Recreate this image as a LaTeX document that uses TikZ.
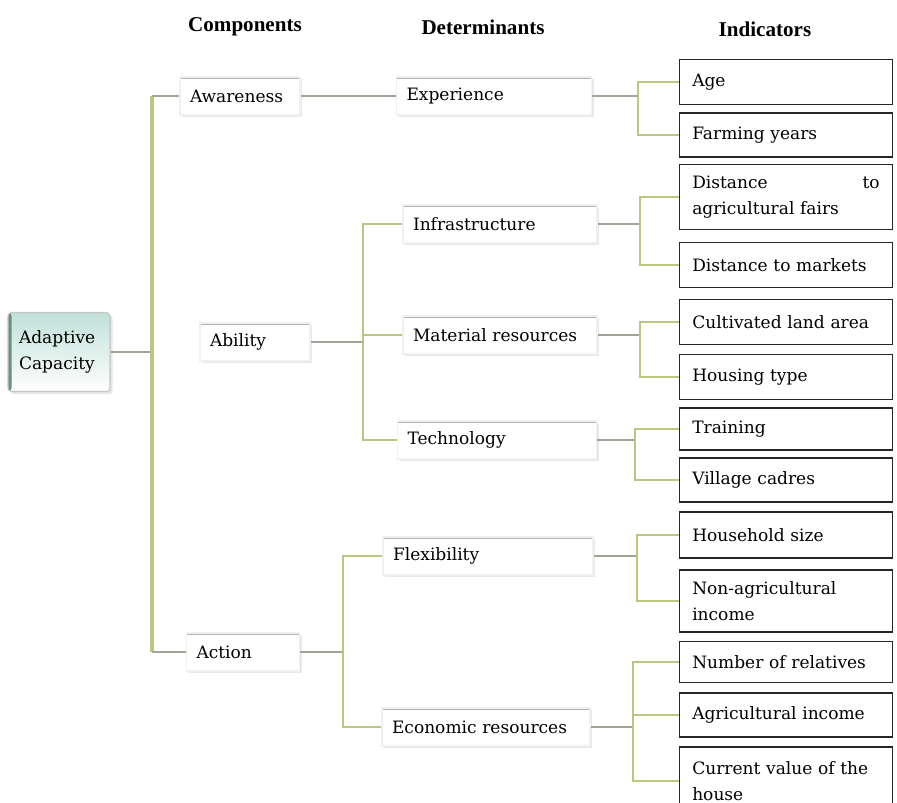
\documentclass[tikz,border=0pt]{standalone}
\usepackage{fontspec}
\setmainfont{DejaVu Serif}
\newfontfamily\headfont{Liberation Serif}
\usetikzlibrary{positioning,shadows}
\definecolor{linkgray}{RGB}{160,163,150}
\definecolor{linkgreen}{RGB}{188,198,128}
\definecolor{rootteal}{RGB}{150,205,190}

\begin{document}
\begin{tikzpicture}[x=0.02cm, y=-0.02cm,
    every node/.style={font=\fontsize{9.7}{14.5}\selectfont},
    head/.style={font=\headfont\bfseries\fontsize{12}{14}\selectfont},
    root/.style={rectangle, rounded corners=2pt, draw=gray!45, line width=0.6pt,
                 top color=rootteal!60, bottom color=white,
                 text width=1.6cm, inner xsep=0.22cm, minimum height=1.58cm, align=left,
                 drop shadow={opacity=0.2, shadow xshift=1.5pt, shadow yshift=-1.5pt},
                 path picture={\fill[rootteal!70!black] (path picture bounding box.north west)
                     rectangle ([xshift=2pt]path picture bounding box.south west);}},
    lvl/.style={rectangle, fill=white, draw=gray!12, line width=0.6pt,
                text width=#1, inner xsep=0.2cm, minimum height=0.76cm, align=left,
                drop shadow={opacity=0.18, shadow xshift=1.2pt, shadow yshift=-1.2pt},
                path picture={\draw[gray!60, line width=1.8pt] (path picture bounding box.north west)
                     -- (path picture bounding box.north east);}},
    ind/.style={rectangle, draw=black!85, line width=1pt, fill=white,
                text width=3.75cm, inner xsep=0.255cm, align=left},
    hlink/.style={draw=linkgray, line width=1.3pt},
    vlink/.style={draw=linkgreen, line width=1.5pt},
]
\useasboundingbox (0,0) rectangle (897,803);
\fill[white] (0,0) rectangle (897,803);
\clip (0,0) rectangle (897,803);

% Column headings
\node[head] (hcomp) at (245,27) {Components};
\node[head] (hdet) at (483,27) {Determinants};
\node[head] (hind) at (765,29) {Indicators};

% Root
\node[root] (adcap) at (59,352) {Adaptive\\Capacity};

% Components
\node[lvl=2.0cm] (aware) at (240,96) {Awareness};
\node[lvl=1.8cm] (abil) at (255,342) {Ability};
\node[lvl=1.86cm] (act) at (243,652) {Action};

% Determinants
\node[lvl=3.5cm] (exper) at (494,96) {Experience};
\node[lvl=3.48cm] (infra) at (500,224) {Infrastructure};
\node[lvl=3.48cm] (mater) at (500,335) {Material resources};
\node[lvl=3.58cm] (techn) at (497,440) {Technology};
\node[lvl=3.8cm] (flexi) at (488,556) {Flexibility};
\node[lvl=3.76cm] (econ) at (486,727) {Economic resources};

% Indicators
\node[ind, minimum height=0.9cm] (age) at (786,82) {Age};
\node[ind, minimum height=0.88cm] (farm) at (786,135) {Farming years};
\node[ind, minimum height=1.3cm] (dfair) at (786,197) {Distance\hfill to\\agricultural fairs};
\node[ind, minimum height=0.9cm] (dmark) at (786,265) {Distance to markets};
\node[ind, minimum height=0.9cm] (cult) at (786,322) {Cultivated land area};
\node[ind, minimum height=0.9cm] (house) at (786,377) {Housing type};
\node[ind, minimum height=0.84cm] (train) at (786,429) {Training};
\node[ind, minimum height=0.88cm] (vill) at (786,480) {Village cadres};
\node[ind, minimum height=0.92cm] (hh) at (786,535) {Household size};
\node[ind, minimum height=1.24cm] (nonag) at (786,601) {Non-agricultural\\income};
\node[ind, minimum height=0.82cm] (rel) at (786,662) {Number of relatives};
\node[ind, minimum height=0.88cm] (agri) at (786,715) {Agricultural income};
\node[ind, minimum height=1.36cm] (cur) at (786,781) {Current value of the\\house};

% Trunk
\coordinate (trunk) at (152,0);
\draw[hlink] (adcap.east) -- (adcap.east -| trunk);
\draw[vlink, line width=1.9pt] (aware.west -| trunk) -- (act.west -| trunk);
\draw[hlink] (aware.west -| trunk) -- (aware.west);
\draw[hlink] (act.west -| trunk) -- (act.west);

% Components to determinants
\draw[hlink] (aware.east) -- (exper.west);

\coordinate (abr) at (363,0);
\draw[hlink] (abil.east) -- (abil.east -| abr);
\draw[vlink] (infra.west) -- (infra.west -| abr) -- (techn.west -| abr) -- (techn.west);
\draw[vlink] (mater.west -| abr) -- (mater.west);

\coordinate (acr) at (343,0);
\draw[hlink] (act.east) -- (act.east -| acr);
\draw[vlink] (flexi.west) -- (flexi.west -| acr) -- (econ.west -| acr) -- (econ.west);

% Determinants to indicators
\foreach \d/\u/\l/\x in {exper/age/farm/638, infra/dfair/dmark/640, mater/cult/house/640,
                         techn/train/vill/635, flexi/hh/nonag/637, econ/rel/cur/633} {
    \coordinate (br\d) at (\x,0);
    \draw[hlink] (\d.east) -- (\d.east -| br\d);
    \draw[vlink] (\u.west) -- (\u.west -| br\d) -- (\l.west -| br\d) -- (\l.west);
}
\draw[vlink] (agri.west -| brecon) -- (agri.west);

\end{tikzpicture}
\end{document}
